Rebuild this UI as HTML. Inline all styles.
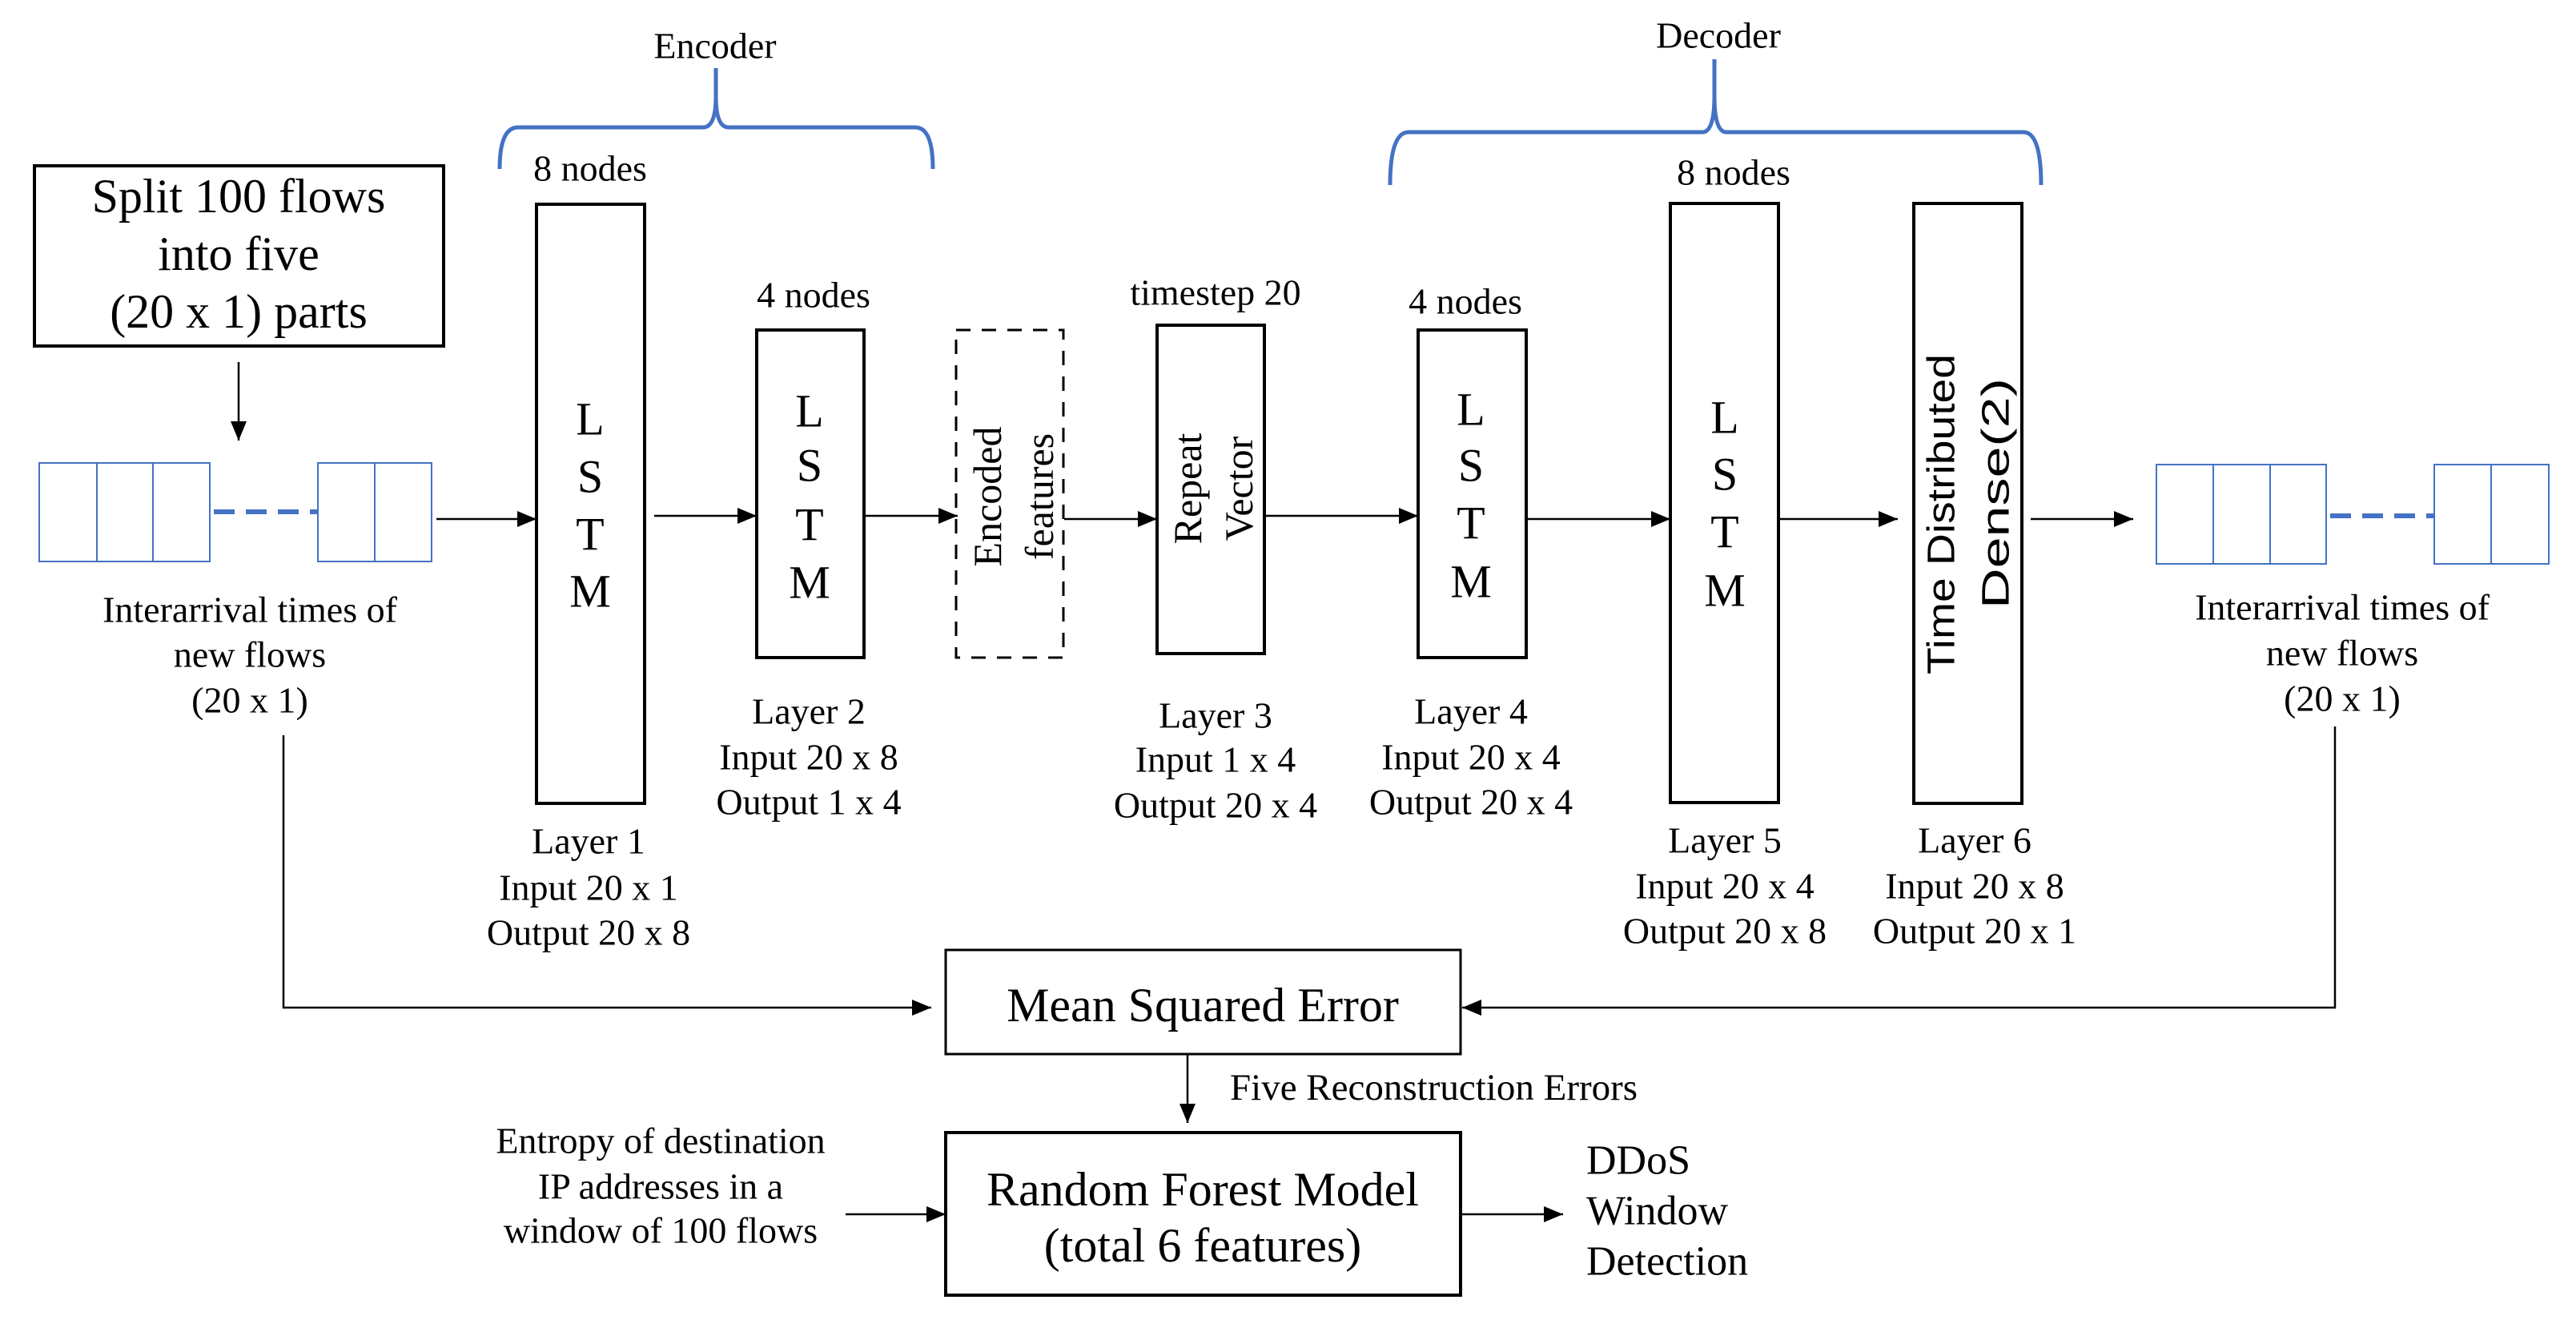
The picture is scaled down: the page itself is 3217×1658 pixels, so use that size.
<!DOCTYPE html>
<html><head><meta charset="utf-8"><style>
html,body{margin:0;padding:0;background:#fff;}
svg{display:block;}
text{font-family:"Liberation Serif",serif;fill:#000;}
.s{font-family:"Liberation Sans",sans-serif;}
</style></head><body>
<svg width="3217" height="1658" viewBox="0 0 3217 1658" xmlns="http://www.w3.org/2000/svg">
<defs>
<marker id="a" markerWidth="24" markerHeight="20" refX="24" refY="10" orient="auto" markerUnits="userSpaceOnUse" viewBox="0 0 24 20">
<path d="M0,0 L24,10 L0,20 z" fill="#000"/></marker>
</defs>
<g fill="none" stroke="#000" stroke-width="3">
<rect x="43" y="207" width="511" height="225" stroke-width="4"/>
<rect x="670" y="255" width="135" height="748" stroke-width="4"/>
<rect x="945" y="412" width="134" height="409" stroke-width="4"/>
<rect x="1194" y="412" width="134" height="409" stroke-dasharray="18,14"/>
<rect x="1445" y="406" width="134" height="410" stroke-width="4"/>
<rect x="1771" y="412" width="135" height="409" stroke-width="4"/>
<rect x="2086" y="254" width="135" height="748" stroke-width="4"/>
<rect x="2390" y="254" width="135" height="749" stroke-width="4"/>
<rect x="1181" y="1186" width="643" height="130" stroke-width="3"/>
<rect x="1181" y="1414" width="643" height="203" stroke-width="4"/>
</g>
<g fill="none" stroke="#4472c4" stroke-width="2">
<rect x="49" y="578" width="213" height="123"/>
<line x1="121" y1="578" x2="121" y2="701"/><line x1="191" y1="578" x2="191" y2="701"/>
<rect x="397" y="578" width="142" height="123"/>
<line x1="468" y1="578" x2="468" y2="701"/>
<rect x="2693" y="580" width="212" height="124"/>
<line x1="2764" y1="580" x2="2764" y2="704"/><line x1="2835" y1="580" x2="2835" y2="704"/>
<rect x="3040" y="580" width="143" height="124"/>
<line x1="3111" y1="580" x2="3111" y2="704"/>
</g>
<g stroke="#4472c4" stroke-width="6" stroke-dasharray="26,14">
<line x1="267" y1="639" x2="397" y2="639"/>
<line x1="2910" y1="644" x2="3040" y2="644"/>
</g>
<g fill="none" stroke="#4472c4" stroke-width="5">
<path d="M624,211 Q624,159 647,159 L878,159 Q894,159 894,120 L894,85 M894,120 Q894,159 910,159 L1143,159 Q1165,159 1165,211"/>
<path d="M1736,231 Q1736,165 1759,165 L2126,165 Q2141,165 2141,120 L2141,74 M2141,120 Q2141,165 2156,165 L2527,165 Q2549,165 2549,231"/>
</g>
<g stroke="#000" stroke-width="2.5" fill="none" marker-end="url(#a)">
<line x1="298" y1="452" x2="298" y2="550"/>
<line x1="545" y1="648" x2="670" y2="648"/>
<line x1="817" y1="644" x2="945" y2="644"/>
<line x1="1079" y1="644" x2="1196" y2="644"/>
<line x1="1329" y1="648" x2="1445" y2="648"/>
<line x1="1579" y1="644" x2="1771" y2="644"/>
<line x1="1906" y1="648" x2="2086" y2="648"/>
<line x1="2221" y1="648" x2="2370" y2="648"/>
<line x1="2536" y1="648" x2="2664" y2="648"/>
<polyline points="354,918 354,1258 1163,1258"/>
<polyline points="2916,907 2916,1258 1826,1258"/>
<line x1="1483" y1="1316" x2="1483" y2="1402"/>
<line x1="1056" y1="1516" x2="1181" y2="1516"/>
<line x1="1824" y1="1516" x2="1952" y2="1516"/>
</g>
<g text-anchor="middle" dominant-baseline="central">
<g font-size="60">
<text x="298" y="245">Split 100 flows</text>
<text x="298" y="317">into five</text>
<text x="298" y="389">(20 x 1) parts</text>
</g>
<g font-size="46">
<text x="893" y="57">Encoder</text>
<text x="2146" y="44">Decoder</text>
<text x="737" y="210">8 nodes</text>
<text x="1016" y="368">4 nodes</text>
<text x="1518" y="365">timestep 20</text>
<text x="1830" y="376">4 nodes</text>
<text x="2165" y="215">8 nodes</text>
<text x="312" y="761">Interarrival times of</text>
<text x="312" y="817">new flows</text>
<text x="312" y="874">(20 x 1)</text>
<text x="2925" y="758">Interarrival times of</text>
<text x="2925" y="815">new flows</text>
<text x="2925" y="872">(20 x 1)</text>
<text x="735" y="1050">Layer 1</text><text x="735" y="1108">Input 20 x 1</text><text x="735" y="1164">Output 20 x 8</text>
<text x="1010" y="888">Layer 2</text><text x="1010" y="945">Input 20 x 8</text><text x="1010" y="1001">Output 1 x 4</text>
<text x="1518" y="893">Layer 3</text><text x="1518" y="948">Input 1 x 4</text><text x="1518" y="1005">Output 20 x 4</text>
<text x="1837" y="888">Layer 4</text><text x="1837" y="945">Input 20 x 4</text><text x="1837" y="1001">Output 20 x 4</text>
<text x="2154" y="1049">Layer 5</text><text x="2154" y="1106">Input 20 x 4</text><text x="2154" y="1162">Output 20 x 8</text>
<text x="2466" y="1049">Layer 6</text><text x="2466" y="1106">Input 20 x 8</text><text x="2466" y="1162">Output 20 x 1</text>
<text x="825" y="1424">Entropy of destination</text>
<text x="825" y="1481">IP addresses in a</text>
<text x="825" y="1536">window of 100 flows</text>
</g>
<g font-size="58">
<text x="737" y="523">L</text><text x="737" y="595">S</text><text x="737" y="667">T</text><text x="737" y="738">M</text>
<text x="1011" y="513">L</text><text x="1011" y="581">S</text><text x="1011" y="655">T</text><text x="1011" y="727">M</text>
<text x="1837" y="511">L</text><text x="1837" y="581">S</text><text x="1837" y="653">T</text><text x="1837" y="726">M</text>
<text x="2154" y="521">L</text><text x="2154" y="592">S</text><text x="2154" y="664">T</text><text x="2154" y="737">M</text>
</g>
<g font-size="60">
<text x="1502" y="1255">Mean Squared Error</text>
<text x="1502" y="1485">Random Forest Model</text>
<text x="1502" y="1555">(total 6 features)</text>
</g>
<g font-size="50">
<text transform="translate(1233,620) rotate(-90)">Encoded</text>
<text transform="translate(1298,620) rotate(-90)">features</text>
<text transform="translate(1483,610) rotate(-90)">Repeat</text>
<text transform="translate(1547,610) rotate(-90)">Vector</text>
</g>
<g font-size="48">
<text class="s" transform="translate(2425,642) rotate(-90)" textLength="400" lengthAdjust="spacingAndGlyphs">Time Distributed</text>
<text class="s" transform="translate(2493,616) rotate(-90)" textLength="288" lengthAdjust="spacingAndGlyphs">Dense(2)</text>
</g>
</g>
<g font-size="47" dominant-baseline="central">
<text x="1536" y="1358">Five Reconstruction Errors</text>
</g>
<g font-size="52" dominant-baseline="central">
<text x="1981" y="1449">DDoS</text>
<text x="1981" y="1512">Window</text>
<text x="1981" y="1575">Detection</text>
</g>
</svg>
</body></html>
